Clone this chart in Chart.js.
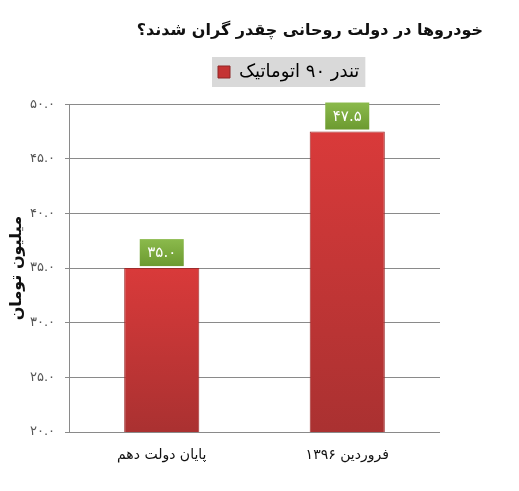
<!DOCTYPE html>
<html>
<head>
<meta charset="utf-8">
<script src="https://cdn.jsdelivr.net/npm/chart.js@4"></script>
<style>
  html, body { margin: 0; padding: 0; background: #fff; }
  #wrap { width: 519px; height: 491px; }
</style>
</head>
<body>
<div id="wrap"><canvas id="chart"></canvas></div>
<script>
const categories = ['پایان دولت دهم', 'فروردین ۱۳۹۶'];
const seriesName = 'تندر ۹۰ اتوماتیک';
const prices = [35.0, 47.5];
const tickLabels = { 20: '۲۰.۰', 25: '۲۵.۰', 30: '۳۰.۰', 35: '۳۵.۰', 40: '۴۰.۰', 45: '۴۵.۰', 50: '۵۰.۰' };
const valueLabels = ['۳۵.۰', '۴۷.۵'];

const FONT = '"DejaVu Sans", Tahoma, sans-serif';

// رنگ گرادیانی میله‌ها
function barColor(ctx) {
    const chart = ctx.chart;
    if (!chart.chartArea || ctx.type !== 'data') return '#c83434';
    const top = chart.scales.y.getPixelForValue(ctx.raw);
    const g = chart.ctx.createLinearGradient(0, top, 0, chart.chartArea.bottom);
    g.addColorStop(0, '#d93a3a');
    g.addColorStop(1, '#aa3131');
    return g;
}

// پس‌زمینه خاکستری لجند و جابجایی آن
const legendBox = {
    id: 'legendBox',
    afterUpdate(chart) {
        const lg = chart.legend;
        if (!lg || !lg.legendHitBoxes.length) return;
        const h0 = lg.legendHitBoxes[0];
        const dx = 218 - h0.left;
        const dy = 72 - (h0.top + h0.height / 2);
        lg.left += dx; lg.right += dx;
        lg.top += dy; lg.bottom += dy;
        lg.legendHitBoxes.forEach(h => { h.left += dx; h.top += dy; });
    },
    beforeDraw(chart) {
        const c = chart.ctx;
        c.save();
        c.fillStyle = '#fff';
        c.fillRect(0, 0, chart.width, chart.height);
        const h = chart.legend.legendHitBoxes[0];
        if (h) {
            const cy = h.top + h.height / 2;
            c.fillStyle = '#d9d9d9';
            c.fillRect(h.left - 6, cy - 15, h.width + 12, 30);
        }
        c.restore();
    }
};

// برچسب سبز بالای هر میله
const valueTags = {
    id: 'valueTags',
    afterDatasetsDraw(chart) {
        const c = chart.ctx;
        chart.getDatasetMeta(0).data.forEach((bar, i) => {
            const w = 44, h = 27;
            const x = bar.x - w / 2, y = bar.y - 2 - h;
            const g = c.createLinearGradient(0, y, 0, y + h);
            g.addColorStop(0, '#8bba4c');
            g.addColorStop(1, '#6c9a30');
            c.save();
            c.fillStyle = g;
            c.fillRect(x, y, w, h);
            c.fillStyle = '#fff';
            c.font = '15px ' + FONT;
            c.textAlign = 'center';
            c.textBaseline = 'middle';
            c.fillText(valueLabels[i], bar.x, y + h / 2 + 1);
            c.restore();
        });
    }
};

new Chart(document.getElementById('chart'), {
    type: 'bar',
    data: {
        labels: categories,
        datasets: [{
            label: seriesName,
            data: prices,
            backgroundColor: barColor,
            borderColor: '#9e2b2b',
            borderWidth: 1,
            barPercentage: 0.5,
            categoryPercentage: 0.81
        }]
    },
    options: {
        responsive: true,
        maintainAspectRatio: false,
        animation: false,
        layout: { padding: { left: 0, right: 36, top: 0, bottom: 0 } },
        plugins: {
            title: {
                display: true,
                text: 'خودروها در دولت روحانی چقدر گران شدند؟',
                align: 'end',
                color: '#111',
                font: { family: FONT, size: 16, weight: 'bold' },
                padding: { top: 21, bottom: 3 }
            },
            legend: {
                display: true,
                labels: {
                    color: '#111',
                    font: { family: FONT, size: 18 },
                    boxWidth: 12,
                    boxHeight: 12,
                    padding: 33,
                    generateLabels(chart) {
                        return [{
                            text: seriesName,
                            fillStyle: '#c43333',
                            strokeStyle: '#8e2626',
                            lineWidth: 1,
                            datasetIndex: 0
                        }];
                    }
                }
            },
            tooltip: { enabled: false }
        },
        scales: {
            x: {
                grid: { display: false },
                border: { display: false },
                ticks: {
                    color: '#111',
                    font: { family: FONT, size: 14 },
                    padding: 7
                },
                afterFit(s) { s.height = 59; }
            },
            y: {
                min: 20,
                max: 50,
                ticks: {
                    stepSize: 5,
                    color: '#555',
                    font: { family: FONT, size: 13 },
                    padding: 10,
                    callback: v => tickLabels[v]
                },
                grid: { color: '#8a8a8a', lineWidth: 1, tickLength: 4 },
                border: { color: '#8a8a8a' },
                title: {
                    display: true,
                    text: 'میلیون تومان',
                    color: '#111',
                    font: { family: FONT, size: 16, weight: 'bold' },
                    padding: { top: 7, bottom: 0 }
                },
                afterFit(s) { s.width = 69; }
            },
            y2: {
                position: 'right',
                grid: { display: false },
                border: { display: false },
                ticks: { display: false },
                afterFit(s) { s.width = 43; }
            }
        }
    },
    plugins: [legendBox, valueTags]
});
</script>
</body>
</html>
